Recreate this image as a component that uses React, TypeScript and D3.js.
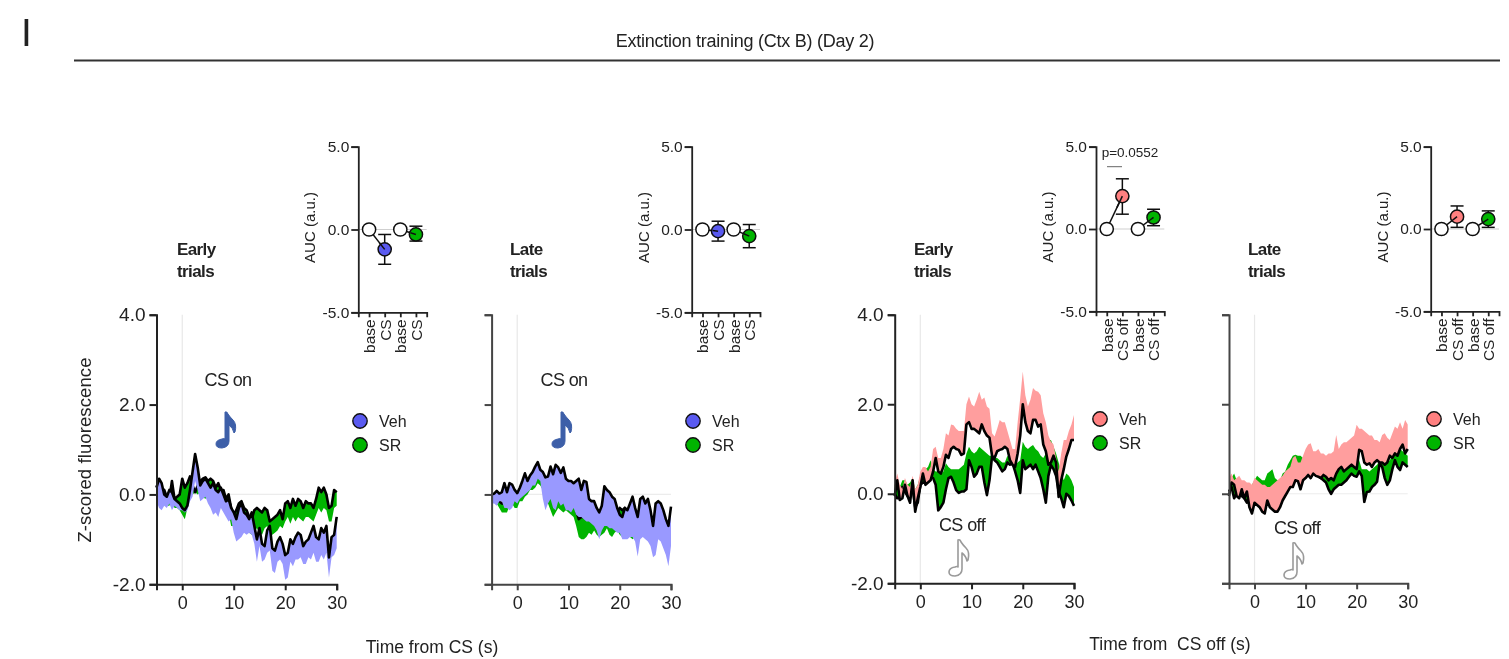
import React, { useEffect, useRef } from "react";
import * as d3 from "d3";

// time axis of all traces, two samples per second
const times = d3.range(-5, 30.5, 0.5);

// CS on, early trials
const onEarlyVeh = [0.15,0.35,0.25,0,-0.05,0.1,0.05,-0.1,-0.15,-0.2,
  -0.3,-0.35,-0.25,0.1,0.5,0.9,0.6,0.2,0.3,0.35,
  0.25,0.15,0.25,0.1,0.05,0.15,0,-0.15,-0.1,-0.3,
  -0.4,-0.55,-0.3,-0.2,-0.4,-0.45,-0.55,-0.4,-0.7,-1.0,
  -0.75,-1.1,-1.15,-0.8,-0.7,-1.2,-1.25,-1.05,-0.95,-1.1,
  -1.35,-1.3,-1.0,-1.1,-0.95,-0.85,-0.9,-1.15,-1.05,-1.0,
  -0.85,-0.7,-0.95,-1.0,-0.75,-0.85,-0.7,-1.4,-0.95,-0.9,-0.5];
const onEarlyVehEdge = [-0.15,-0.3,-0.35,-0.25,-0.3,-0.2,-0.35,-0.25,-0.3,-0.35,
  -0.35,-0.4,-0.35,-0.15,-0.05,0.3,0.1,-0.15,-0.1,-0.05,
  -0.2,-0.3,-0.45,-0.4,-0.5,-0.3,-0.4,-0.5,-0.6,-0.55,
  -0.85,-1.05,-1.0,-0.95,-0.85,-0.9,-0.85,-0.9,-1.1,-1.5,
  -1.15,-1.5,-1.45,-1.3,-1.25,-1.7,-1.75,-1.5,-1.45,-1.55,
  -1.9,-1.85,-1.5,-1.6,-1.45,-1.45,-1.4,-1.55,-1.55,-1.4,
  -1.45,-1.3,-1.5,-1.5,-1.35,-1.45,-1.3,-1.85,-1.4,-1.35,-1.2];
const onEarlySr = [0.2,0.1,0,0.1,-0.05,-0.1,0.3,-0.1,-0.05,0,
  0.35,0.15,0.25,0.4,0.2,0.05,0.2,0.3,0.35,0.38,
  0.3,0.35,0.3,0.15,0.25,0.1,0.1,-0.1,0,-0.3,
  -0.45,-0.35,-0.2,-0.15,-0.3,-0.35,-0.5,-0.55,-0.35,-0.3,
  -0.35,-0.4,-0.3,-0.35,-0.6,-0.55,-0.5,-0.45,-0.35,-0.55,
  -0.2,-0.15,-0.3,-0.1,-0.25,-0.1,-0.15,-0.3,-0.15,-0.2,
  -0.2,-0.3,-0.1,0.15,0.05,0.15,0,-0.3,-0.25,0.1,0.05];
const onEarlySrEdge = [0,-0.05,-0.2,-0.2,-0.25,-0.25,-0.1,-0.3,-0.3,-0.35,
  -0.45,-0.55,-0.3,-0.1,0,0.05,0,0.05,-0.05,-0.1,
  0.05,0.1,-0.05,-0.15,-0.1,-0.2,-0.25,-0.35,-0.4,-0.7,
  -0.7,-0.75,-0.55,-0.55,-0.75,-0.85,-0.85,-0.9,-0.8,-0.75,
  -0.85,-0.9,-0.75,-0.7,-0.9,-0.9,-0.85,-0.8,-0.7,-0.75,
  -0.6,-0.5,-0.65,-0.5,-0.6,-0.5,-0.55,-0.6,-0.5,-0.5,
  -0.55,-0.6,-0.45,-0.3,-0.4,-0.3,-0.35,-0.6,-0.6,-0.3,-0.25];

// CS on, late trials
const onLateVeh = [0,0.02,0.08,0.02,0.05,0.25,0.05,0.25,0.22,0.1,
  0.03,0.15,0.3,0.47,0.3,0.42,0.5,0.62,0.72,0.55,
  0.5,0.38,0.4,0.62,0.45,0.66,0.6,0.48,0.6,0.35,
  0.3,0.3,0.25,0.3,0.35,0.1,0.3,0.28,-0.1,-0.15,
  -0.15,-0.3,-0.4,-0.25,0.18,0.1,0.05,-0.05,-0.1,-0.3,
  -0.45,-0.5,-0.3,-0.35,-0.2,-0.05,-0.3,-0.5,-0.1,-0.05,
  -0.2,-0.1,-0.35,-0.7,-0.2,-0.15,-0.2,-0.35,-0.55,-0.7,-0.27];
const onLateVehEdge = [-0.2,-0.2,-0.25,-0.15,-0.15,-0.3,-0.3,-0.35,-0.3,-0.15,
  -0.2,-0.1,-0.05,0,0.05,0.1,0.2,0.2,0.35,0.3,
  -0.1,-0.35,-0.2,-0.1,-0.3,-0.35,-0.15,-0.25,-0.2,-0.35,
  -0.35,-0.4,-0.3,-0.45,-0.5,-0.5,-0.55,-0.6,-0.6,-0.65,
  -0.7,-0.8,-1.0,-0.8,-0.7,-0.7,-0.75,-0.75,-0.8,-0.85,
  -0.85,-1.0,-1.0,-1.0,-0.95,-0.95,-1.05,-1.38,-1.0,-0.95,
  -1.0,-1.05,-1.15,-1.4,-1.35,-1.0,-1.05,-1.2,-1.35,-1.6,-1.15];
const onLateSr = [0,-0.05,-0.1,-0.15,-0.2,-0.2,-0.1,-0.05,-0.05,-0.1,
  -0.1,0,0.05,0.1,0.15,0.2,0.3,0.35,0.4,0.35,
  0.3,0.1,0,0.05,0.1,-0.1,-0.05,0,0.1,-0.05,
  -0.1,-0.15,-0.2,-0.35,-0.55,-0.5,-0.5,-0.45,-0.3,-0.4,
  -0.45,-0.5,-0.5,-0.5,-0.5,-0.45,-0.4,-0.45,-0.5,-0.4,
  -0.3,-0.35,-0.3,-0.4,-0.5,-0.45,-0.4,-0.4,-0.4,-0.45,
  -0.5,-0.5,-0.55,-0.5,-0.5,-0.55,-0.6,-0.7,-0.8,-0.7,-0.7];
const onLateSrEdge = [-0.15,-0.15,-0.2,-0.3,-0.4,-0.4,-0.4,-0.25,-0.2,-0.3,
  -0.3,-0.15,-0.15,-0.05,0,0.1,0.1,0.15,0.25,0.2,
  0.1,-0.1,-0.2,-0.35,-0.5,-0.4,-0.3,-0.35,-0.4,-0.35,
  -0.4,-0.45,-0.5,-0.7,-0.95,-1.0,-1.0,-0.95,-0.85,-0.9,
  -0.8,-0.9,-0.95,-0.9,-0.85,-0.75,-0.9,-0.95,-0.85,-0.8,
  -0.9,-0.95,-0.9,-0.9,-0.95,-1.0,-0.95,-0.9,-0.9,-0.9,
  -0.9,-0.85,-0.9,-0.9,-0.85,-0.95,-1.0,-1.0,-0.95,-0.9,-0.9];

// CS off, early trials
const offEarlyVeh = [-0.05,0.3,-0.14,-0.1,0.2,-0.05,-0.2,0.3,-0.4,-0.1,
  0.15,0.45,0.2,0.25,0.3,0.5,0.8,0.5,0.45,0.6,
  0.87,0.8,1.0,1.05,1.0,0.98,0.87,0.9,1.55,1.6,
  1.45,1.45,1.4,1.35,1.55,1.4,1.3,1.25,0.85,0.8,
  0.95,0.98,1.0,1.05,1.0,0.75,0.65,0.6,0.9,1.3,
  2.0,1.6,1.4,1.35,1.65,1.65,1.5,1.55,1.1,0.95,
  0.65,0.7,0.85,0.7,-0.07,0.3,0.55,0.83,1.0,1.2,1.2];
const offEarlyVehEdge = [0.2,0.45,0.2,0.1,0.35,0.2,0.15,0.4,0.1,0.2,
  0.5,0.6,0.6,0.5,0.6,1.0,1.05,0.8,0.8,1.0,
  1.35,1.3,1.55,1.53,1.45,1.4,1.4,1.4,2.0,2.17,
  2.0,1.95,2.1,2.28,2.1,2.15,1.95,1.9,1.35,1.28,
  1.45,1.65,1.6,1.6,1.4,1.2,1.0,1.0,1.6,2.13,
  2.73,2.2,1.95,2.1,2.36,2.3,2.28,2.2,1.8,1.6,
  1.3,1.16,1.1,0.8,0.5,0.9,1.2,1.2,1.4,1.55,1.76];
const offEarlySr = [0,-0.1,-0.1,0.15,0.05,-0.05,0.1,0.15,-0.3,-0.2,
  0.2,0.25,0.25,0.3,0.38,0.35,0.2,-0.37,-0.3,-0.2,
  0.1,0.35,0.38,0.25,0.08,0.02,0.05,0.05,0.1,0.75,
  0.6,0.38,0.45,0.6,0.6,0.25,-0.03,0.3,0.83,0.75,
  0.7,0.6,0.5,0.55,0.7,0.65,0.68,0.5,0.3,0.02,
  0.75,0.55,0.6,0.65,0.55,0.65,0.5,0.35,0.1,-0.2,
  0.4,0.64,0.55,0.4,0.05,-0.1,-0.3,0,-0.05,-0.15,-0.27];
const offEarlySrEdge = [0.2,0.25,0.15,0.3,0.3,0.2,0.25,0.35,0.1,0.2,
  0.4,0.5,0.55,0.6,0.75,0.55,0.5,0.5,0.45,0.5,
  0.68,0.6,0.55,0.55,0.55,0.55,0.6,0.65,0.9,1.05,
  0.95,0.9,0.95,1.05,1.0,0.95,0.9,0.85,0.85,0.8,
  0.8,0.75,0.7,0.7,0.85,0.75,0.7,0.65,0.7,0.75,
  1.16,1.05,1.0,1.05,1.09,1.0,0.95,0.85,0.8,0.9,
  1.2,1.2,1.05,0.9,0.7,0.5,0.3,0.45,0.4,0.3,0.15];

// CS off, late trials
const offLateVeh = [-0.05,0.25,0.2,-0.05,-0.1,0.1,-0.1,0.05,-0.3,-0.44,
  -0.2,-0.25,-0.3,-0.4,-0.44,-0.15,-0.3,-0.35,-0.4,-0.4,
  -0.3,-0.15,-0.05,0.05,0.15,0.15,0.3,0.28,0.1,0.3,
  0.35,0.42,0.35,0.45,0.4,0.38,0.35,0.42,0.38,0.3,
  0.35,0.3,0.45,0.55,0.6,0.5,0.55,0.6,0.65,0.6,
  0.55,0.98,0.95,0.7,0.65,0.68,0.6,0.7,0.75,0.7,
  0.7,0.65,0.7,0.85,0.8,0.9,0.85,1.0,1.1,0.9,1.0];
const offLateVehEdge = [0.35,0.45,0.3,0.35,0.4,0.3,0.3,0.25,0.25,0.2,
  0.35,0.3,0.25,0.2,0.2,0.15,0.15,0.2,0.25,0.3,
  0.35,0.4,0.5,0.55,0.6,0.8,0.85,0.7,0.7,0.85,
  1.0,1.1,1.13,0.95,0.95,1.0,0.9,0.9,0.85,0.9,
  0.9,0.95,1.31,1.0,1.1,1.15,1.15,1.2,1.25,1.3,
  1.54,1.45,1.45,1.4,1.35,1.3,1.3,1.2,1.2,1.15,
  1.31,1.35,1.25,1.2,1.35,1.5,1.45,1.6,1.45,1.65,1.55];
const offLateSr = [0.05,0.15,-0.1,0,0.2,-0.05,-0.1,-0.2,-0.05,-0.2,
  -0.05,0.1,0.2,0.05,-0.1,0,0.1,0.15,0.1,0,
  0,0.1,0.2,0.3,0.35,0.45,0.5,0.5,0.45,0.4,
  0.4,0.45,0.45,0.5,0.45,0.4,0.35,0.3,0.25,0.1,
  0,0.1,0.15,0.2,0.2,0.25,0.3,0.38,0.45,0.4,
  0.38,0.5,0.4,-0.18,0.04,0.05,0.15,0.2,0.27,0.68,
  0.6,0.35,0.2,0.3,0.55,0.75,0.6,0.53,0.7,0.65,0.6];
const offLateSrEdge = [0.3,0.35,0.45,0.3,0.35,0.25,0.2,0.15,0.05,0.2,
  0.3,0.4,0.35,0.3,0.3,0.45,0.5,0.55,0.35,0.3,
  0.3,0.45,0.5,0.65,0.75,0.85,0.87,0.85,0.85,0.8,
  0.75,0.7,0.8,0.7,0.75,0.65,0.65,0.6,0.6,0.55,
  0.5,0.55,0.6,0.6,0.65,0.7,0.8,0.65,0.75,0.8,
  0.7,0.75,0.55,0.55,0.55,0.5,0.55,0.6,0.65,0.75,
  0.7,0.65,0.7,0.75,0.85,0.9,0.95,1.0,0.95,0.9,0.85];

// AUC insets: mean, low and high whisker of the CS point of each group
const aucVeh = [[-1.2, -2.1, -0.3], [-0.1, -0.7, 0.5], [2.0, 0.9, 3.05], [0.75, 0.1, 1.4]];
const aucSr = [[-0.3, -0.7, 0.2], [-0.4, -1.1, 0.3], [0.7, 0.2, 1.2], [0.6, 0.1, 1.1]];
const onLabels = ["base", "CS", "base", "CS"];
const offLabels = ["base", "CS off", "base", "CS off"];
const timeTicks = [0, 10, 20, 30];
const zTicks = [-2, 0, 2, 4];
const aucTicks = [-5, 0, 5];

const FONT = "Liberation Sans, Arial, sans-serif";
const INK = "#222";
const GREEN = "#00b400";
const NOTE = "M10,1 Q12,0 13,3 Q15,6 18,9 Q22,13 20,21 L19,22 Q18,17 14,14 L14,30 Q14,36 7,37 Q1,37 1,33 Q1,29 7,28 Q9,27 10,28 Z";

const panels = [
  { veh: onEarlyVeh, vehEdge: onEarlyVehEdge, sr: onEarlySr, srEdge: onEarlySrEdge, auc: 0, x0: 156.5, x1: 336.7, bottom: 584.3, yLabels: true, axis: "#222",
    vehBand: "#9999ff", vehDot: "#5a5af0", title: "Early", titleX: 177, cue: "CS on", cueX: 228, cueY: 386, noteX: 215, noteY: 411, legX: 360, legY: 421,
    labels: onLabels, ix0: 358.3, ix1: 426.7, iBottom: 312.3 },
  { veh: onLateVeh, vehEdge: onLateVehEdge, sr: onLateSr, srEdge: onLateSrEdge, auc: 1, x0: 491.6, x1: 671, bottom: 584.3, yLabels: false, axis: "#444",
    vehBand: "#9999ff", vehDot: "#5a5af0", title: "Late", titleX: 510, cue: "CS on", cueX: 564, cueY: 386, noteX: 551, noteY: 411, legX: 693, legY: 421,
    labels: onLabels, ix0: 691.7, ix1: 760, iBottom: 312.3 },
  { veh: offEarlyVeh, vehEdge: offEarlyVehEdge, sr: offEarlySr, srEdge: offEarlySrEdge, auc: 2, x0: 894.7, x1: 1074, bottom: 583.3, yLabels: true, axis: "#222",
    vehBand: "#ff9e9e", vehDot: "#ff8080", title: "Early", titleX: 914, cue: "CS off", cueX: 962, cueY: 531, noteX: 948, noteY: 539, legX: 1100, legY: 419,
    labels: offLabels, ix0: 1096, ix1: 1164.3, iBottom: 311.3 },
  { veh: offLateVeh, vehEdge: offLateVehEdge, sr: offLateSr, srEdge: offLateSrEdge, auc: 3, x0: 1229, x1: 1407.7, bottom: 583.3, yLabels: false, axis: "#444",
    vehBand: "#ff9e9e", vehDot: "#ff8080", title: "Late", titleX: 1248, cue: "CS off", cueX: 1297, cueY: 534, noteX: 1283, noteY: 542, legX: 1434, legY: 419,
    labels: offLabels, ix0: 1430.7, ix1: 1499, iBottom: 311.3 },
];

const addText = (g: any, x: number, y: number, s: string, size: number, anchor = "start") =>
  g.append("text").attr("x", x).attr("y", y).attr("font-size", size).attr("text-anchor", anchor).attr("fill", INK).text(s);

const styleAxis = (g: any, color: string, width: number, size: number) => {
  g.selectAll("path,line").attr("stroke", color).attr("stroke-width", width);
  g.selectAll("text").attr("font-size", size).attr("font-family", FONT).attr("fill", INK);
};

export default function App() {
  const ref = useRef<SVGSVGElement>(null);

  useEffect(() => {
    const root = d3.select(ref.current);
    root.selectAll("*").remove();
    root.append("defs").append("filter").attr("id", "soft").attr("x", 0).attr("y", 0).attr("width", 1).attr("height", 1)
      .append("feGaussianBlur").attr("stdDeviation", 0.4);
    // the reference is a slightly soft raster, so everything sits under a faint blur
    const svg = root.append("g").attr("filter", "url(#soft)").attr("font-family", FONT);
    svg.append("rect").attr("width", 1509).attr("height", 659).attr("fill", "#fff");

    addText(svg, 21, 46, "I", 39);
    addText(svg, 745, 47, "Extinction training (Ctx B) (Day 2)", 18, "middle").attr("letter-spacing", -0.25);
    svg.append("line").attr("x1", 74).attr("x2", 1500).attr("y1", 60.5).attr("y2", 60.5).attr("stroke", "#333").attr("stroke-width", 2);

    addText(svg, 0, 0, "Z-scored fluorescence", 18.5, "middle").attr("transform", "translate(91,450) rotate(-90)").attr("letter-spacing", 0.1);
    addText(svg, 432, 653, "Time from CS (s)", 17.5, "middle");
    addText(svg, 1170, 650, "Time from  CS off (s)", 17.5, "middle").attr("xml:space", "preserve");

    panels.forEach((p) => {
      const g = svg.append("g");
      const x = d3.scaleLinear().domain([-5, 30]).range([p.x0, p.x1]);
      const y = d3.scaleLinear().domain([-2, 4]).range([p.bottom, 314.7]);

      // reference lines at t=0 and z=0
      g.append("line").attr("x1", x(0)).attr("x2", x(0)).attr("y1", y(4)).attr("y2", y(-2)).attr("stroke", "#e8e8e8").attr("stroke-width", 1.2);
      g.append("line").attr("x1", x(-5)).attr("x2", x(30)).attr("y1", y(0)).attr("y2", y(0)).attr("stroke", "#ececec").attr("stroke-width", 1.2);

      const band = (mean: number[], edge: number[], fill: string) => {
        const area = d3.area<number>().x((t) => x(t)).y0((_, i) => y(mean[i])).y1((_, i) => y(edge[i]));
        g.append("path").attr("d", area(times)).attr("fill", fill);
      };
      const trace = (mean: number[]) => {
        const line = d3.line<number>().x((t) => x(t)).y((_, i) => y(mean[i]));
        g.append("path").attr("d", line(times)).attr("fill", "none").attr("stroke", "#000").attr("stroke-width", 2.6).attr("stroke-linejoin", "round");
      };
      band(p.sr, p.srEdge, GREEN);
      trace(p.sr);
      band(p.veh, p.vehEdge, p.vehBand);
      trace(p.veh);

      const yAxis = d3.axisLeft(y).tickValues(zTicks).tickSizeOuter(0).tickSize(7).tickPadding(4)
        .tickFormat((d: any) => (p.yLabels ? d3.format(".1f")(d).replace("−", "-") : ""));
      styleAxis(g.append("g").attr("transform", `translate(${p.x0},0)`).call(yAxis), p.axis, 2, 19);
      const xAxis = d3.axisBottom(x).tickValues(timeTicks).tickSizeOuter(0).tickSize(6).tickPadding(6).tickFormat((d: any) => String(d));
      styleAxis(g.append("g").attr("transform", `translate(0,${p.bottom})`).call(xAxis), p.axis, 2, 18);

      // group label, cue and note icon
      const head = addText(g, p.titleX, 255, p.title, 17).attr("font-weight", "bold").attr("letter-spacing", -0.6);
      head.clone(true).attr("y", 277).text("trials");
      addText(g, p.cueX, p.cueY, p.cue, 18, "middle").attr("letter-spacing", -0.6);
      const isOn = p.cue === "CS on";
      g.append("path").attr("d", NOTE).attr("transform", `translate(${p.noteX},${p.noteY})`)
        .attr("fill", isOn ? "#3c5ea8" : "#fff").attr("stroke", isOn ? "#3c5ea8" : "#9a9a9a").attr("stroke-width", isOn ? 1 : 1.6).attr("stroke-linejoin", "round");

      // legend
      [["Veh", p.vehDot], ["SR", GREEN]].forEach(([name, color], i) => {
        const ly = p.legY + i * 24;
        g.append("circle").attr("cx", p.legX).attr("cy", ly).attr("r", 7.2).attr("fill", color).attr("stroke", "#111").attr("stroke-width", 1.4);
        addText(g, p.legX + 19, ly + 5.5, name, 16);
      });

      // AUC inset
      const ins = svg.append("g");
      const ix = d3.scalePoint<number>().domain([0, 1, 2, 3]).range([p.ix0, p.ix1]).padding(0.69);
      const iy = d3.scaleLinear().domain([-5, 5]).range([p.iBottom, 146.7]);
      ins.append("line").attr("x1", p.ix0).attr("x2", p.ix1).attr("y1", iy(0)).attr("y2", iy(0)).attr("stroke", "#cfcfcf").attr("stroke-width", 1);

      const pairs = [[0, aucVeh[p.auc], p.vehDot], [2, aucSr[p.auc], GREEN]] as [number, number[], string][];
      pairs.forEach(([i, vals, color]) => {
        const [mean, lo, hi] = vals;
        const cx = ix(i + 1) as number;
        ins.append("line").attr("x1", ix(i) as number).attr("x2", cx).attr("y1", iy(0)).attr("y2", iy(mean)).attr("stroke", "#111").attr("stroke-width", 1.5);
        ins.append("line").attr("x1", cx).attr("x2", cx).attr("y1", iy(lo)).attr("y2", iy(hi)).attr("stroke", "#111").attr("stroke-width", 1.5);
        [lo, hi].forEach((v) => ins.append("line").attr("x1", cx - 6.5).attr("x2", cx + 6.5).attr("y1", iy(v)).attr("y2", iy(v)).attr("stroke", "#111").attr("stroke-width", 1.5));
        ins.append("circle").attr("cx", ix(i) as number).attr("cy", iy(0)).attr("r", 6.6).attr("fill", "#fff").attr("stroke", "#111").attr("stroke-width", 1.5);
        ins.append("circle").attr("cx", cx).attr("cy", iy(mean)).attr("r", 6.6).attr("fill", color).attr("stroke", "#111").attr("stroke-width", 1.5);
        ins.append("line").attr("x1", ix(i) as number + (cx - (ix(i) as number)) * 0.65).attr("x2", cx).attr("y1", iy(mean * 0.65)).attr("y2", iy(mean)).attr("stroke", "#111").attr("stroke-width", 1.5);
      });

      const iyAxis = d3.axisLeft(iy).tickValues(aucTicks).tickSizeOuter(0).tickSize(7).tickPadding(2).tickFormat((d: any) => d3.format(".1f")(d).replace("−", "-"));
      styleAxis(ins.append("g").attr("transform", `translate(${p.ix0},0)`).call(iyAxis), "#222", 1.8, 15.5);
      const ixAxis = d3.axisBottom(ix).tickSizeOuter(0).tickSize(5).tickFormat((d: any) => p.labels[d]);
      const ixG = ins.append("g").attr("transform", `translate(0,${p.iBottom})`).call(ixAxis);
      styleAxis(ixG, "#222", 1.8, 15.5);
      ixG.selectAll("text").attr("x", 0).attr("y", 0).attr("dy", "0.35em").attr("text-anchor", "end").attr("transform", "translate(0,7) rotate(-90)");
      addText(ins, 0, 0, "AUC (a.u.)", 15, "middle").attr("transform", `translate(${p.ix0 - 43},${iy(0) - 2}) rotate(-90)`);
    });

    // significance note on the third inset
    addText(svg, 1130, 157, "p=0.0552", 13.5, "middle");
    svg.append("line").attr("x1", 1107).attr("x2", 1122).attr("y1", 166.7).attr("y2", 166.7).attr("stroke", "#666").attr("stroke-width", 1);
  }, []);

  return <svg ref={ref} width={1509} height={659} style={{ position: "absolute", left: 0, top: 0, background: "#fff" }} />;
}
